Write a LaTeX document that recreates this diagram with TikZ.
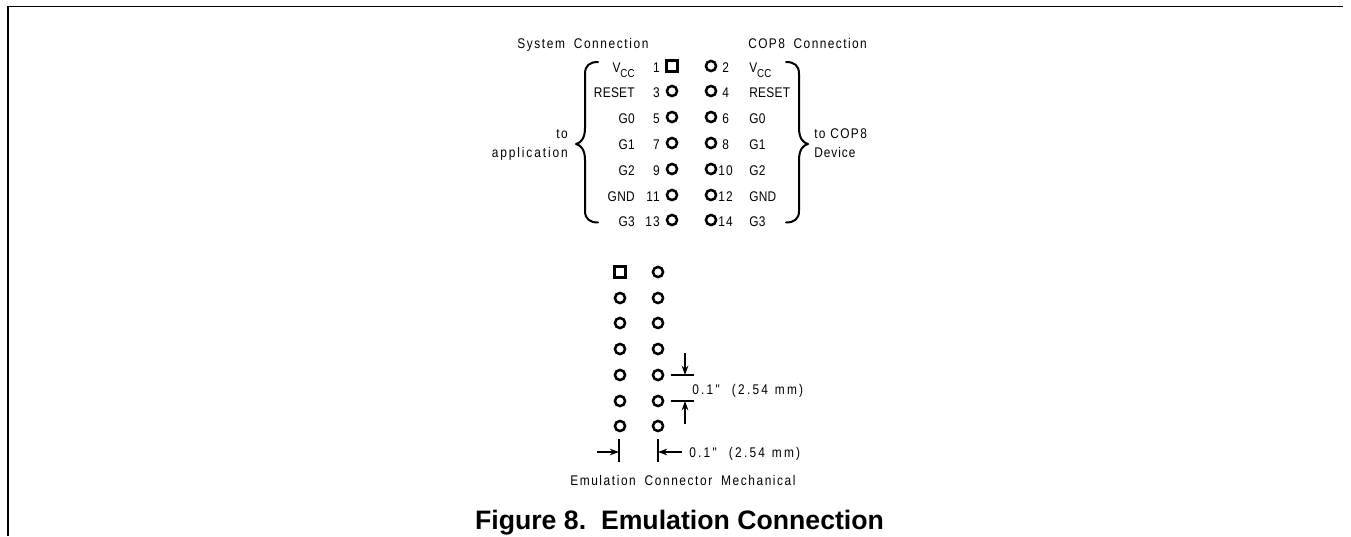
\documentclass[tikz,border=0pt]{standalone}
\usepackage{fontspec}
\setmainfont{Liberation Sans}
\newfontfamily\plotfont{Liberation Sans}[FakeStretch=0.85]
\usetikzlibrary{arrows.meta}
\newcommand{\spc}[1]{\addfontfeature{LetterSpace=#1}}
\newcommand{\vcc}{V\raisebox{-4pt}{\fontsize{8.6}{9}\selectfont CC}}
\newcommand{\wsp}{\hspace{3pt}}
\tikzset{
 x=0.75pt,y=-0.75pt,
 pinc/.style={circle,draw=black,line width=1.9pt,minimum size=7.6pt,inner sep=0pt,fill=white},
 pins/.style={rectangle,draw=black,line width=2pt,minimum size=8.6pt,inner sep=0pt,fill=white},
 lab/.style={font=\plotfont\fontsize{10.5}{12}\selectfont,inner sep=0pt,text=black},
 curlybr/.style={line width=1.5pt,line cap=round,line join=round},
 dimline/.style={line width=0.8pt},
 dimarr/.style={line width=0.8pt,-{Stealth[length=7pt,width=5pt]}},
}
\begin{document}
\begin{tikzpicture}
\useasboundingbox (0,0) rectangle (1351,536);
\draw[line width=1pt] (8,536) -- (8,6.5) -- (1343,6.5);
\node[lab,anchor=base west] (h1) at (517,48) {\spc{11.4}System\wsp{} Connection};
\node[lab,anchor=base west] (h2) at (748,48) {\spc{10.2}COP8\wsp{} Connection};
\foreach \y/\l/\n/\m/\r/\o [count=\i] in {66/{\vcc}/1/2/{\vcc}/722,91/RESET/3/4/RESET/722,117/G0/5/6/G0/722,143/G1/7/8/G1/722,169/G2/9/10/G2/718,195/GND/11/12/GND/718,220/G3/13/14/G3/718}{
 \node[lab,anchor=base east] (ll\i) at (635,\y+6) {\spc{2}\l};
 \node[lab,anchor=base east] (ln\i) at (660,\y+6) {\spc{8}\n};
 \ifnum\i=1 \node[pins] (p\i) at (672,\y) {}; \else \node[pinc] (p\i) at (672,\y) {}; \fi
 \node[pinc] (q\i) at (711,\y) {};
 \node[lab,anchor=base west] (rn\i) at (\o,\y+6) {\spc{8}\m};
 \node[lab,anchor=base west] (rl\i) at (749,\y+6) {\spc{2}\r};
}
\draw[curlybr] (598,62) .. controls (590,62) and (585,65) .. (585,74) -- (585,128) .. controls (585,138) and (581,143) .. (576,144) .. controls (581,145) and (585,150) .. (585,160) -- (585,211) .. controls (585,219) and (590,222.5) .. (598,222.5);
\draw[curlybr] (786,62) .. controls (794,62) and (799,65) .. (799,74) -- (799,128) .. controls (799,138) and (803,143) .. (808,144) .. controls (803,145) and (799,150) .. (799,160) -- (799,211) .. controls (799,219) and (794,222.5) .. (786,222.5);
\node[lab,anchor=base east] (t1) at (568,138) {\spc{10}to};
\node[lab,anchor=base east] (t2) at (568,157) {\spc{13.6}application};
\node[lab,anchor=base west] (t3) at (814,138) {\spc{10}to COP8};
\node[lab,anchor=base west] (t4) at (814,157) {\spc{7}Device};
\foreach \y/\i in {272/1,298/2,323/3,349/4,375/5,401/6,426/7}{
 \ifnum\i=1 \node[pins] (a\i) at (620,\y) {}; \else \node[pinc] (a\i) at (620,\y) {}; \fi
 \node[pinc] (b\i) at (658,\y) {};
}
% vertical pitch dimension
\coordinate (d1l) at (671,375); \coordinate (d1r) at (694,375); \coordinate (d1m) at (685,375); \coordinate (d1s) at (685,353);
\coordinate (d2l) at (671,401); \coordinate (d2r) at (694,401); \coordinate (d2m) at (685,401); \coordinate (d2s) at (685,424);
\draw[dimline] (d1l) -- (d1r);
\draw[dimline] (d2l) -- (d2r);
\draw[dimarr] (d1s) -- (d1m);
\draw[dimarr] (d2s) -- (d2m);
\node[lab,anchor=base west] (vd) at (692,394) {\spc{16}0.1"\hspace{5pt} (2.54\hspace{1pt} mm)};
% horizontal pitch dimension
\coordinate (e1t) at (619,439); \coordinate (e1b) at (619,462); \coordinate (e1m) at (619,452); \coordinate (e1s) at (597,452);
\coordinate (e2t) at (658,439); \coordinate (e2b) at (658,462); \coordinate (e2m) at (658,452); \coordinate (e2s) at (682,452);
\draw[dimline] (e1t) -- (e1b);
\draw[dimline] (e2t) -- (e2b);
\draw[dimarr] (e1s) -- (e1m);
\draw[dimarr] (e2s) -- (e2m);
\node[lab,anchor=base west] (hd) at (689,457) {\spc{16}0.1"\hspace{5pt} (2.54\hspace{1pt} mm)};
\node[lab,anchor=base west] (cap) at (570,485) {\spc{11.3}Emulation\wsp{} Connector\wsp{} Mechanical};
\node[anchor=base,inner sep=0pt,font=\fontsize{20}{22}\selectfont\bfseries] (title) at (679.5,529) {Figure 8.\ \ Emulation Connection};
\end{tikzpicture}
\end{document}
